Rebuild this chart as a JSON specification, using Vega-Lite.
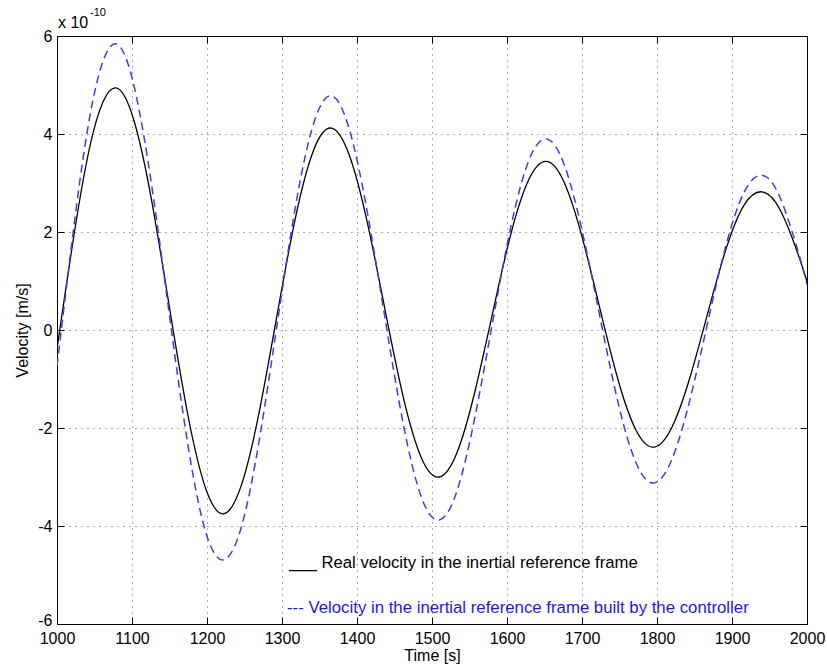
{
  "$schema": "https://vega.github.io/schema/vega-lite/v6.json",
  "width": 750,
  "height": 588,
  "autosize": {"type": "none"},
  "padding": {"left": 57, "top": 36, "right": 20, "bottom": 46},
  "background": "white",
  "config": {
    "view": {"stroke": "black", "strokeWidth": 1},
    "font": "Liberation Sans",
    "axis": {
      "labelFont": "Liberation Sans",
      "labelFontSize": 16,
      "labelColor": "black",
      "titleFont": "Liberation Sans",
      "titleFontSize": 16,
      "titleFontWeight": "normal",
      "titleColor": "black",
      "domainColor": "black",
      "domainWidth": 1,
      "tickColor": "black",
      "tickWidth": 1,
      "tickSize": -7,
      "gridColor": "#444444",
      "gridDash": [1, 5],
      "gridWidth": 1,
      "gridOpacity": 0.9
    }
  },
  "datasets": {
    "curves": [
      {"t": 1000, "v": -0.38, "series": "real"},
      {"t": 1007.3, "v": 0.38, "series": "real"},
      {"t": 1031.2, "v": 2.74, "series": "real"},
      {"t": 1055.1, "v": 4.40, "series": "real"},
      {"t": 1079.0, "v": 4.94, "series": "real"},
      {"t": 1102.9, "v": 4.26, "series": "real"},
      {"t": 1126.8, "v": 2.59, "series": "real"},
      {"t": 1150.8, "v": 0.38, "series": "real"},
      {"t": 1174.7, "v": -1.75, "series": "real"},
      {"t": 1198.6, "v": -3.25, "series": "real"},
      {"t": 1222.5, "v": -3.75, "series": "real"},
      {"t": 1246.4, "v": -3.14, "series": "real"},
      {"t": 1270.3, "v": -1.62, "series": "real"},
      {"t": 1294.3, "v": 0.38, "series": "real"},
      {"t": 1318.2, "v": 2.31, "series": "real"},
      {"t": 1342.1, "v": 3.67, "series": "real"},
      {"t": 1366.0, "v": 4.12, "series": "real"},
      {"t": 1389.9, "v": 3.56, "series": "real"},
      {"t": 1413.8, "v": 2.19, "series": "real"},
      {"t": 1437.8, "v": 0.38, "series": "real"},
      {"t": 1461.7, "v": -1.37, "series": "real"},
      {"t": 1485.6, "v": -2.60, "series": "real"},
      {"t": 1509.5, "v": -3.00, "series": "real"},
      {"t": 1533.4, "v": -2.50, "series": "real"},
      {"t": 1557.3, "v": -1.25, "series": "real"},
      {"t": 1581.3, "v": 0.38, "series": "real"},
      {"t": 1605.2, "v": 1.96, "series": "real"},
      {"t": 1629.1, "v": 3.07, "series": "real"},
      {"t": 1653.0, "v": 3.44, "series": "real"},
      {"t": 1676.9, "v": 2.99, "series": "real"},
      {"t": 1700.8, "v": 1.86, "series": "real"},
      {"t": 1724.8, "v": 0.38, "series": "real"},
      {"t": 1748.7, "v": -1.05, "series": "real"},
      {"t": 1772.6, "v": -2.06, "series": "real"},
      {"t": 1796.5, "v": -2.39, "series": "real"},
      {"t": 1820.4, "v": -1.97, "series": "real"},
      {"t": 1844.3, "v": -0.95, "series": "real"},
      {"t": 1868.3, "v": 0.38, "series": "real"},
      {"t": 1892.2, "v": 1.66, "series": "real"},
      {"t": 1916.1, "v": 2.55, "series": "real"},
      {"t": 1940.0, "v": 2.82, "series": "real"},
      {"t": 1963.9, "v": 2.46, "series": "real"},
      {"t": 1987.8, "v": 1.56, "series": "real"},
      {"t": 2000, "v": 0.99, "series": "real"},
      {"t": 1000, "v": -0.74, "series": "ctrl"},
      {"t": 1007.3, "v": 0.2, "series": "ctrl"},
      {"t": 1031.2, "v": 3.12, "series": "ctrl"},
      {"t": 1055.1, "v": 5.17, "series": "ctrl"},
      {"t": 1079.0, "v": 5.84, "series": "ctrl"},
      {"t": 1102.9, "v": 4.97, "series": "ctrl"},
      {"t": 1126.8, "v": 2.89, "series": "ctrl"},
      {"t": 1150.8, "v": 0.2, "series": "ctrl"},
      {"t": 1174.7, "v": -2.36, "series": "ctrl"},
      {"t": 1198.6, "v": -4.14, "series": "ctrl"},
      {"t": 1222.5, "v": -4.69, "series": "ctrl"},
      {"t": 1246.4, "v": -3.99, "series": "ctrl"},
      {"t": 1270.3, "v": -2.19, "series": "ctrl"},
      {"t": 1294.3, "v": 0.2, "series": "ctrl"},
      {"t": 1318.2, "v": 2.54, "series": "ctrl"},
      {"t": 1342.1, "v": 4.21, "series": "ctrl"},
      {"t": 1366.0, "v": 4.78, "series": "ctrl"},
      {"t": 1389.9, "v": 4.09, "series": "ctrl"},
      {"t": 1413.8, "v": 2.40, "series": "ctrl"},
      {"t": 1437.8, "v": 0.2, "series": "ctrl"},
      {"t": 1461.7, "v": -1.92, "series": "ctrl"},
      {"t": 1485.6, "v": -3.40, "series": "ctrl"},
      {"t": 1509.5, "v": -3.88, "series": "ctrl"},
      {"t": 1533.4, "v": -3.28, "series": "ctrl"},
      {"t": 1557.3, "v": -1.77, "series": "ctrl"},
      {"t": 1581.3, "v": 0.2, "series": "ctrl"},
      {"t": 1605.2, "v": 2.11, "series": "ctrl"},
      {"t": 1629.1, "v": 3.46, "series": "ctrl"},
      {"t": 1653.0, "v": 3.90, "series": "ctrl"},
      {"t": 1676.9, "v": 3.35, "series": "ctrl"},
      {"t": 1700.8, "v": 1.98, "series": "ctrl"},
      {"t": 1724.8, "v": 0.2, "series": "ctrl"},
      {"t": 1748.7, "v": -1.52, "series": "ctrl"},
      {"t": 1772.6, "v": -2.73, "series": "ctrl"},
      {"t": 1796.5, "v": -3.12, "series": "ctrl"},
      {"t": 1820.4, "v": -2.62, "series": "ctrl"},
      {"t": 1844.3, "v": -1.40, "series": "ctrl"},
      {"t": 1868.3, "v": 0.2, "series": "ctrl"},
      {"t": 1892.2, "v": 1.74, "series": "ctrl"},
      {"t": 1916.1, "v": 2.81, "series": "ctrl"},
      {"t": 1940.0, "v": 3.16, "series": "ctrl"},
      {"t": 1963.9, "v": 2.71, "series": "ctrl"},
      {"t": 1987.8, "v": 1.62, "series": "ctrl"},
      {"t": 2000, "v": 0.93, "series": "ctrl"}
    ],
    "notes": [
      {"t": 1309.3, "v": -4.76, "label": "___ Real velocity in the inertial reference frame", "role": "real"},
      {"t": 1306.7, "v": -5.67, "label": "--- Velocity in the inertial reference frame built by the controller", "role": "ctrl"},
      {"t": 1001.3, "v": 6.27, "label": "x 10", "role": "exp"},
      {"t": 1044, "v": 6.46, "label": "-10", "role": "sup"}
    ]
  },
  "layer": [
    {
      "data": {"name": "curves"},
      "transform": [{"filter": "datum.series === 'real'"}],
      "mark": {"type": "line", "color": "black", "strokeWidth": 1.3, "interpolate": "natural", "clip": true},
      "encoding": {
        "x": {
          "field": "t", "type": "quantitative",
          "scale": {"domain": [1000, 2000], "nice": false, "zero": false},
          "axis": {"orient": "bottom", "values": [1000, 1100, 1200, 1300, 1400, 1500, 1600, 1700, 1800, 1900, 2000], "labelExpr": "'' + datum.value", "grid": true, "title": "Time [s]", "titlePadding": 1, "labelPadding": 13, "labelFlush": false}
        },
        "y": {
          "field": "v", "type": "quantitative",
          "scale": {"domain": [-6, 6], "nice": false, "zero": false},
          "axis": {"orient": "left", "values": [-6, -4, -2, 0, 2, 4, 6], "labelExpr": "'' + datum.value", "labelOffset": {"condition": {"test": "datum.value === -6", "value": -4}, "value": 0}, "grid": true, "title": "Velocity [m/s]", "titlePadding": 7, "labelPadding": 12, "labelFlush": false}
        }
      }
    },
    {
      "data": {"name": "curves"},
      "transform": [{"filter": "datum.series === 'ctrl'"}],
      "mark": {"type": "line", "color": "#3b3bf2", "strokeWidth": 1.5, "strokeDash": [8, 5], "interpolate": "natural", "clip": true},
      "encoding": {
        "x": {
          "field": "t", "type": "quantitative",
          "scale": {"domain": [1000, 2000], "nice": false, "zero": false},
          "axis": {"orient": "top", "values": [1000, 1100, 1200, 1300, 1400, 1500, 1600, 1700, 1800, 1900, 2000], "labels": false, "grid": false, "title": null}
        },
        "y": {
          "field": "v", "type": "quantitative",
          "scale": {"domain": [-6, 6], "nice": false, "zero": false},
          "axis": {"orient": "right", "values": [-6, -4, -2, 0, 2, 4, 6], "labels": false, "grid": false, "title": null}
        }
      }
    },
    {
      "data": {"name": "notes"},
      "transform": [{"filter": "datum.role === 'real'"}],
      "mark": {"type": "text", "align": "left", "baseline": "middle", "fontSize": 16.7, "color": "black"},
      "encoding": {
        "x": {"field": "t", "type": "quantitative", "scale": {"domain": [1000, 2000], "nice": false, "zero": false}, "axis": null},
        "y": {"field": "v", "type": "quantitative", "scale": {"domain": [-6, 6], "nice": false, "zero": false}, "axis": null},
        "text": {"field": "label"}
      }
    },
    {
      "data": {"name": "notes"},
      "transform": [{"filter": "datum.role === 'ctrl'"}],
      "mark": {"type": "text", "align": "left", "baseline": "middle", "fontSize": 16.8, "color": "#1a1ae6"},
      "encoding": {
        "x": {"field": "t", "type": "quantitative", "scale": {"domain": [1000, 2000], "nice": false, "zero": false}, "axis": null},
        "y": {"field": "v", "type": "quantitative", "scale": {"domain": [-6, 6], "nice": false, "zero": false}, "axis": null},
        "text": {"field": "label"}
      }
    },
    {
      "data": {"name": "notes"},
      "transform": [{"filter": "datum.role === 'exp'"}],
      "mark": {"type": "text", "align": "left", "baseline": "middle", "fontSize": 16, "color": "black"},
      "encoding": {
        "x": {"field": "t", "type": "quantitative", "scale": {"domain": [1000, 2000], "nice": false, "zero": false}, "axis": null},
        "y": {"field": "v", "type": "quantitative", "scale": {"domain": [-6, 6], "nice": false, "zero": false}, "axis": null},
        "text": {"field": "label"}
      }
    },
    {
      "data": {"name": "notes"},
      "transform": [{"filter": "datum.role === 'sup'"}],
      "mark": {"type": "text", "align": "left", "baseline": "middle", "fontSize": 11, "color": "black"},
      "encoding": {
        "x": {"field": "t", "type": "quantitative", "scale": {"domain": [1000, 2000], "nice": false, "zero": false}, "axis": null},
        "y": {"field": "v", "type": "quantitative", "scale": {"domain": [-6, 6], "nice": false, "zero": false}, "axis": null},
        "text": {"field": "label"}
      }
    }
  ],
  "resolve": {"axis": {"x": "independent", "y": "independent"}}
}
